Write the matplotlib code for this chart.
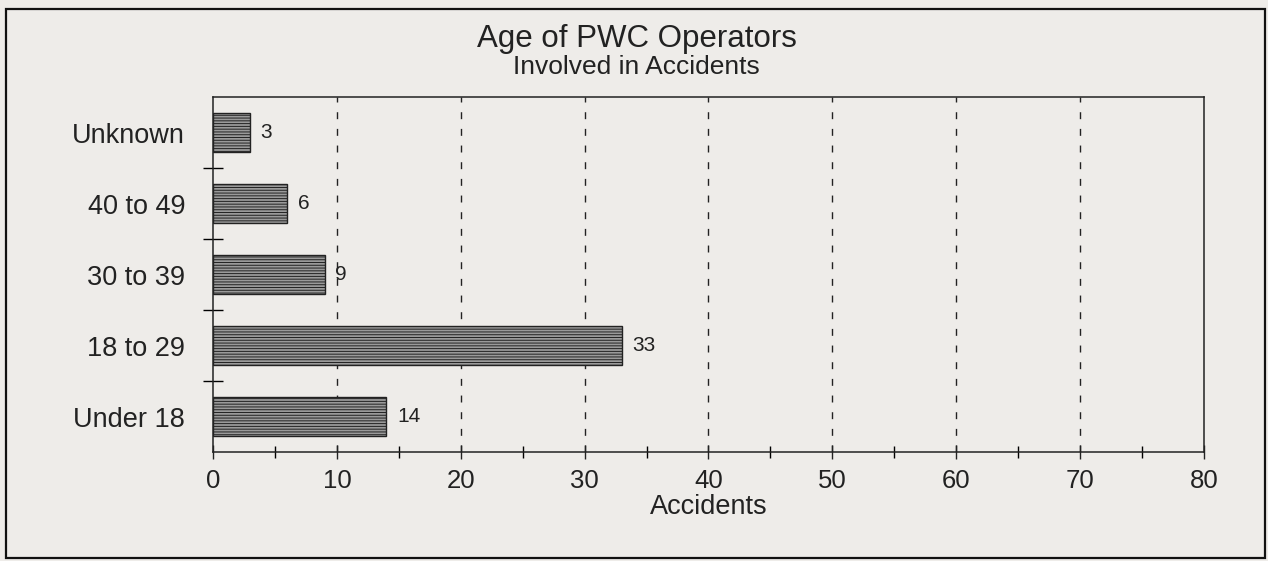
import matplotlib.pyplot as plt
from matplotlib.patches import Rectangle

plt.rcParams['font.family'] = ['Liberation Sans', 'DejaVu Sans']
plt.rcParams['hatch.linewidth'] = 0.7
plt.rcParams['hatch.color'] = '#333333'

# age groups, bottom to top
grupos = ['Under 18', '18 to 29', '30 to 39', '40 to 49', 'Unknown']
accidentes = [14, 33, 9, 6, 3]
ticks_x = [0, 10, 20, 30, 40, 50, 60, 70, 80]

fondo = '#eeece9'
fig = plt.figure(figsize=(12.68, 5.61), dpi=100, facecolor=fondo)
ax = fig.add_axes([0.168, 0.194, 0.7815, 0.633], facecolor=fondo)

# outer frame around the whole chart
fig.patches.append(Rectangle((0.005, 0.005), 0.993, 0.979, transform=fig.transFigure,
                             fill=False, edgecolor='#111', linewidth=1.6))

pos = range(len(grupos))
barras = ax.barh(pos, accidentes, height=0.54, color='#9a9a9a', edgecolor='#222',
                 linewidth=1.0, hatch='------', zorder=3)
for p, v in zip(pos, accidentes):
    ax.text(v + 0.85, p, str(v), va='center', ha='left', fontsize=15, color='#222')

ax.set_xlim(0, 80)
ax.set_ylim(-0.5, len(grupos) - 0.5)
ax.set_xticks(ticks_x)
ax.set_xticks(range(5, 80, 10), minor=True)
ax.tick_params(axis='x', which='major', direction='inout', length=10, width=1,
               labelsize=18.5, pad=7, colors='#222')
ax.tick_params(axis='x', which='minor', direction='inout', length=8, width=1)

# category labels centred, ticks on the boundaries
ax.set_yticks(list(pos))
ax.set_yticklabels(grupos, fontsize=19.5, color='#222')
ax.tick_params(axis='y', which='major', length=0, pad=20)
ax.set_yticks([0.5, 1.5, 2.5, 3.5], minor=True)
ax.tick_params(axis='y', which='minor', direction='inout', length=14, width=1)

for x in ticks_x[1:-1]:
    ax.axvline(x, color='#222', linestyle=(0, (5, 7)), linewidth=1, zorder=1)

for s in ax.spines.values():
    s.set_color('#222')
    s.set_linewidth(1.1)

ax.set_xlabel('Accidents', fontsize=19.5, labelpad=1, color='#222')
fig.text(0.502, 0.916, 'Age of PWC Operators', ha='center', va='baseline',
         fontsize=22.5, color='#222')
fig.text(0.502, 0.868, 'Involved in Accidents', ha='center', va='baseline',
         fontsize=19, color='#222')

fig.savefig('out.png', dpi=100, facecolor=fondo)
